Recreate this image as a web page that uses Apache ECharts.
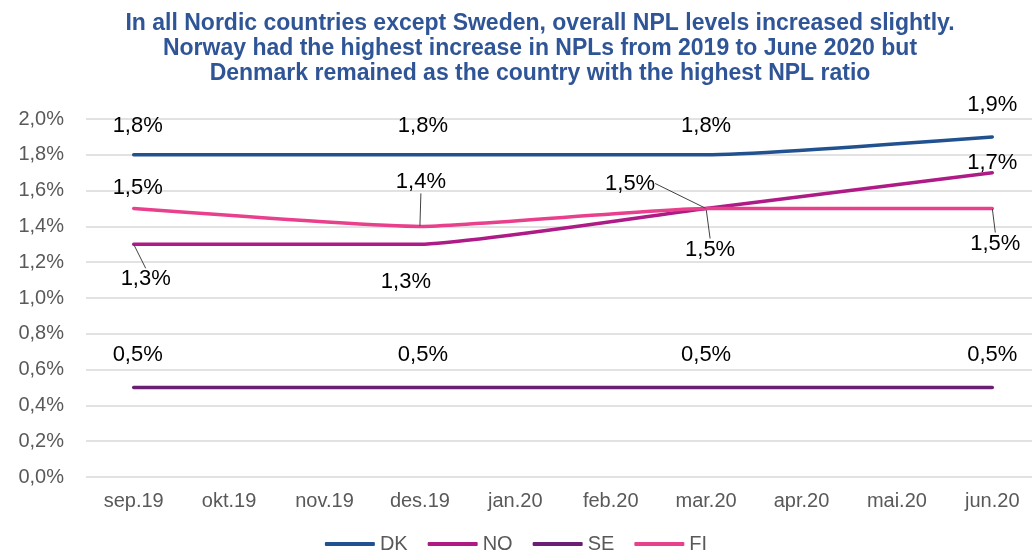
<!DOCTYPE html>
<html>
<head>
<meta charset="utf-8">
<script src="https://cdn.jsdelivr.net/npm/echarts@6/dist/echarts.min.js"></script>
<style>
  html, body { margin: 0; padding: 0; background: #fff; }
  #charts { width: 1032px; height: 560px; }
</style>
</head>
<body>
<div id="charts"></div>
<script>
// NPL ratio, Nordic countries
var months = ['sep.19', 'okt.19', 'nov.19', 'des.19', 'jan.20', 'feb.20', 'mar.20', 'apr.20', 'mai.20', 'jun.20'];
var dk = [1.8, null, null, 1.8, null, null, 1.8, null, null, 1.9];
var no = [1.3, null, null, 1.3, null, null, 1.5, null, null, 1.7];
var se = [0.5, null, null, 0.5, null, null, 0.5, null, null, 0.5];
var fi = [1.5, null, null, 1.4, null, null, 1.5, null, null, 1.5];
var yTicks = [0, 0.2, 0.4, 0.6, 0.8, 1.0, 1.2, 1.4, 1.6, 1.8, 2.0];

// label offsets (centre of label relative to point), by data index
var offsets = {
	DK: {0: [4, -29], 3: [3, -29], 6: [0, -29], 9: [0, -32]},
	NO: {0: [12, 35], 3: [-14, 38], 6: [4, 41], 9: [0, -10]},
	SE: {0: [4, -33], 3: [3, -33], 6: [0, -33], 9: [0, -33]},
	FI: {0: [4, -21], 3: [1, -44], 6: [-76, -25], 9: [3, 35]}
};
var leaders = {
	DK: [], NO: [0, 6], SE: [], FI: [3, 6, 9]
};

var chart = echarts.init(document.getElementById('charts'));

function fmt(v) {
	return v.toFixed(1).replace('.', ',') + '%';
}

function mkSeries(name, data, color) {
	return {
		name: name,
		type: 'line',
		data: data.map(function (v, i) {
			if (v === null) return null;
			return {
				value: v,
				labelLine: { show: leaders[name].indexOf(i) >= 0 }
			};
		}),
		connectNulls: true,
		smooth: 0.15,
		symbol: 'circle',
		symbolSize: 1,
		showSymbol: true,
		itemStyle: { color: color },
		lineStyle: { color: color, width: 3.5, cap: 'round' },
		label: {
			show: true,
			position: 'inside',
			color: '#000',
			fontFamily: 'Liberation Sans, Arial',
			fontSize: 22,
			formatter: function (p) { return fmt(p.value); }
		},
		labelLine: {
			show: false,
			lineStyle: { color: '#404040', width: 1 }
		},
		labelLayout: function (p) {
			var o = offsets[name][p.dataIndex] || [0, 0];
			return { dx: o[0], dy: o[1] };
		},
		emphasis: { disabled: true },
		z: name === 'FI' ? 3 : 2
	};
}

var option = {
	animation: false,
	title: {
		text: 'In all Nordic countries except Sweden, overall NPL levels increased slightly.\nNorway had the highest increase in NPLs from 2019 to June 2020 but\nDenmark remained as the country with the highest NPL ratio',
		left: 535,
		top: 6,
		textAlign: 'center',
		textStyle: {
			color: '#2F5597',
			fontFamily: 'Liberation Sans, Arial',
			fontWeight: 'bold',
			fontSize: 23,
			lineHeight: 25
		}
	},
	legend: {
		bottom: 1,
		left: 'center',
		itemWidth: 50,
		itemHeight: 4,
		itemGap: 20,
		icon: 'roundRect',
		textStyle: { color: '#595959', fontSize: 20, fontFamily: 'Liberation Sans, Arial' },
		data: ['DK', 'NO', 'SE', 'FI']
	},
	grid: { left: 86, width: 954, top: 119, bottom: 83, outerBoundsMode: 'none', containLabel: false },
	xAxis: {
		type: 'category',
		data: months,
		boundaryGap: true,
		axisLine: { show: false },
		axisTick: { show: false },
		axisLabel: { color: '#595959', fontSize: 20, fontFamily: 'Liberation Sans, Arial', margin: 14 }
	},
	yAxis: {
		type: 'value',
		min: yTicks[0],
		max: yTicks[yTicks.length - 1],
		interval: 0.2,
		axisLine: { show: false },
		axisTick: { show: false },
		splitLine: { lineStyle: { color: '#d9d9d9', width: 1.5 } },
		axisLabel: {
			color: '#595959', fontSize: 20, fontFamily: 'Liberation Sans, Arial', margin: 22,
			formatter: function (v) { return fmt(v); }
		}
	},
	series: [
		mkSeries('DK', dk, '#21528F'),
		mkSeries('NO', no, '#AE1A86'),
		mkSeries('SE', se, '#6A1E74'),
		mkSeries('FI', fi, '#E8408C')
	]
};
chart.setOption(option);
</script>
</body>
</html>
